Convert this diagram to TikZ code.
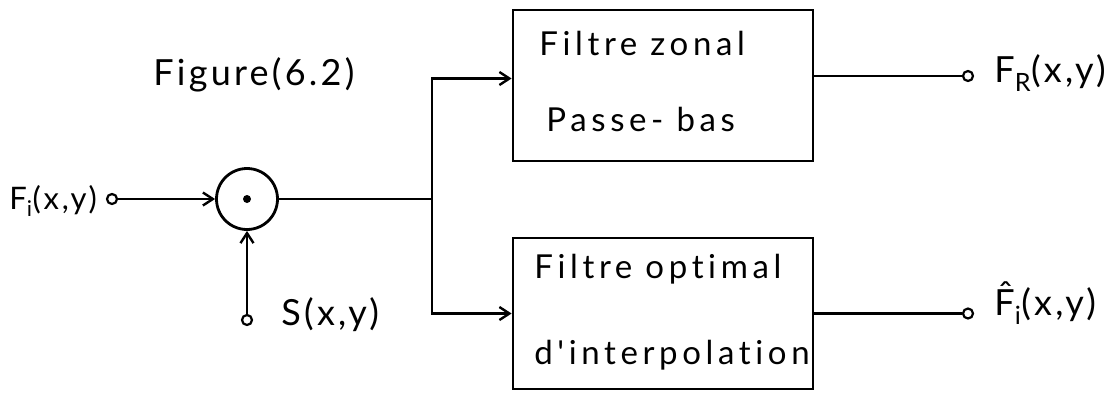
\documentclass[tikz,border=0pt]{standalone}
\usepackage{fontspec}
\setmainfont{Lato}[LetterSpace=9,Ligatures=NoCommon]
\newfontfamily\boxfont{Lato}[LetterSpace=14,Ligatures=NoCommon]
\usetikzlibrary{arrows.meta,calc}
\begin{document}
\begin{tikzpicture}[x=1pt,y=-1pt,
  line width=2.8pt,
  every node/.style={font=\fontsize{31}{34}\selectfont},
  big/.style={font=\fontsize{36}{40}\selectfont},
  boxtxt/.style={font=\boxfont\fontsize{33}{36}\selectfont},
  term/.style={circle,draw,fill=white,line width=2.2pt,inner sep=0pt,minimum size=10pt},
  blk/.style={draw,rectangle,minimum width=300pt,minimum height=151pt,inner sep=0pt},
  mult/.style={circle,draw,minimum size=61pt,inner sep=0pt},
  lbl/.style={anchor=base west,inner sep=0pt},
  sig/.style={-{Straight Barb[length=10pt,width=13pt,line width=2.4pt]}}]
\useasboundingbox (0,0) rectangle (1111,392);

% multiplier and blocks
\node[mult] (mul) at (247,199) {};
\fill (mul.center) circle (4pt);
\node[blk] (lp) at (663,85.5) {};
\node[blk] (io) at (663,313.5) {};

% terminals
\node[term] (in) at (112,199) {};
\node[term] (s) at (247,320) {};
\node[term] (outR) at (968,76) {};
\node[term] (outI) at (968,313.5) {};
\coordinate (j) at (432,199);

% labels
\node[lbl] (tin) at (8,209) {F\textsubscript{i}(x,y)};
\node[lbl,big] (ts) at (280,325) {S(x,y)};
\node[lbl,big] (tfig) at (152,85) {Figure(6.2)};
\node[lbl,big] (tR) at (993,82) {F\textsubscript{R}(x,y)};
\node[lbl,big] (tI) at (993,315) {F̂\textsubscript{i}(x,y)};
\node[lbl,boxtxt] (l1) at (538,55) {Filtre zonal};
\node[lbl,boxtxt] (l2) at (545,131) {Passe- bas};
\node[lbl,boxtxt] (l3) at (533,278) {Filtre optimal};
\node[lbl,boxtxt] (l4) at (533,364) {d'interpolation};

% connectors
\draw[sig] (in) -- (mul);
\draw[sig] (s) -- (mul);
\draw (mul) -- (j);
\draw[sig] (j) |- ([yshift=7pt]lp.west);
\draw[sig] (j) |- (io.west);
\draw ([yshift=9.5pt]lp.east) -- (outR);
\draw (io.east) -- (outI);
\end{tikzpicture}
\end{document}
